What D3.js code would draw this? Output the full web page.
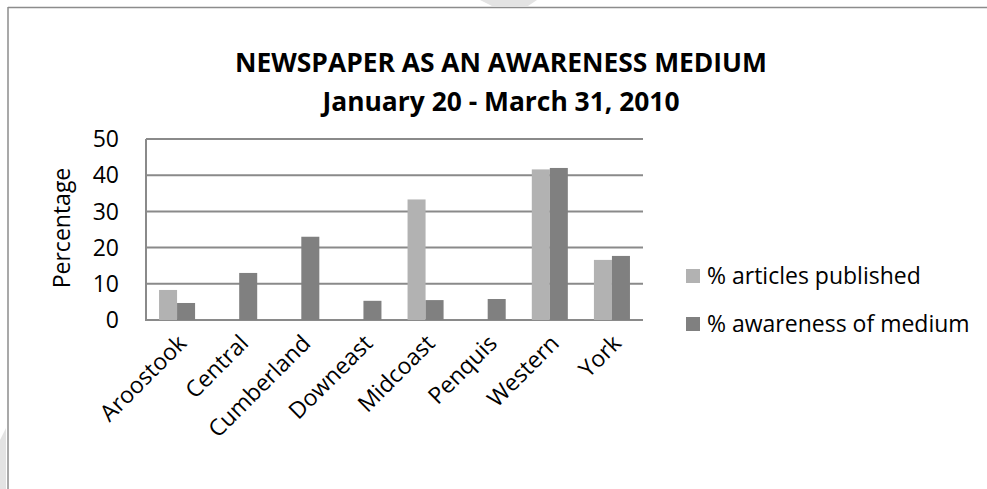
<!DOCTYPE html>
<html>
<head>
<meta charset="utf-8">
<script src="https://cdn.jsdelivr.net/npm/d3@7"></script>
<style>
  body { margin: 0; background: #fff; }
  svg { display: block; font-family: "Open Sans", sans-serif; }
</style>
</head>
<body>
<svg id="chart" width="987" height="489"></svg>
<script>
var regions = ["Aroostook", "Central", "Cumberland", "Downeast", "Midcoast", "Penquis", "Western", "York"];
var seriesNames = ["% articles published", "% awareness of medium"];
var articles = [8.3, 0, 0, 0, 33.3, 0, 41.6, 16.6];
var awareness = [4.7, 13.0, 23.0, 5.3, 5.5, 5.8, 42.0, 17.7];
var yTicks = [0, 10, 20, 30, 40, 50];
var colors = ["#b2b2b2", "#808080"];

var svg = d3.select("#chart");

// faint page marks behind the chart
svg.append("path")
  .attr("d", "M480,0 L537,0 L528,6 L492,6 Z")
  .attr("fill", "#e3e3e3");
svg.append("path")
  .attr("d", "M0,440 L6,428 L6,489 L0,489 Z")
  .attr("fill", "#e3e3e3");

// chart frame (only top and left edges show)
svg.append("line")
  .attr("x1", 8).attr("x2", 987).attr("y1", 7.5).attr("y2", 7.5)
  .attr("stroke", "#8c8c8c").attr("stroke-width", 1.5);
svg.append("line")
  .attr("x1", 8).attr("x2", 8).attr("y1", 7).attr("y2", 489)
  .attr("stroke", "#8c8c8c").attr("stroke-width", 1.5);

// title
svg.append("text")
  .attr("x", 501).attr("y", 72)
  .attr("text-anchor", "middle")
  .style("font-weight", "bold")
  .style("font-size", "26.4px")
  .text("NEWSPAPER AS AN AWARENESS MEDIUM");
svg.append("text")
  .attr("x", 501).attr("y", 111)
  .attr("text-anchor", "middle")
  .style("font-weight", "bold")
  .style("font-size", "26.4px")
  .text("January 20 - March 31, 2010");

var x = d3.scaleBand()
  .domain(regions)
  .range([146, 643])
  .paddingInner(0.42)
  .paddingOuter(0.21);

var xs = d3.scaleBand()
  .domain(seriesNames)
  .range([0, x.bandwidth()]);

var y = d3.scaleLinear()
  .domain([0, 50])
  .range([320, 139]);

// gridlines
svg.append("g").selectAll("line")
  .data(yTicks)
  .enter().append("line")
  .attr("x1", 146).attr("x2", 643)
  .attr("y1", function (d) { return y(d); })
  .attr("y2", function (d) { return y(d); })
  .attr("stroke", "#8a8a8a")
  .attr("stroke-width", 2);

// tick labels
svg.append("g").selectAll("text")
  .data(yTicks)
  .enter().append("text")
  .attr("x", 119)
  .attr("y", function (d) { return y(d); })
  .attr("dy", "0.36em")
  .attr("text-anchor", "end")
  .style("font-size", "23px")
  .text(function (d) { return d; });

svg.append("text")
  .attr("transform", "translate(70,228) rotate(-90)")
  .attr("text-anchor", "middle")
  .style("font-size", "23px")
  .text("Percentage");

// bars
var rows = regions.map(function (r, i) {
  return { region: r, values: [articles[i], awareness[i]] };
});

var groups = svg.append("g").selectAll("g")
  .data(rows)
  .enter().append("g")
  .attr("transform", function (d) { return "translate(" + x(d.region) + ",0)"; });

groups.selectAll("rect")
  .data(function (d) {
    return d.values.map(function (v, i) { return { name: seriesNames[i], value: v, i: i }; });
  })
  .enter().append("rect")
  .attr("x", function (d) { return xs(d.name); })
  .attr("y", function (d) { return y(d.value); })
  .attr("width", xs.bandwidth())
  .attr("height", function (d) { return y(0) - y(d.value); })
  .attr("fill", function (d) { return colors[d.i]; });

// left axis line
svg.append("line")
  .attr("x1", 146).attr("x2", 146).attr("y1", 139).attr("y2", 321)
  .attr("stroke", "#8a8a8a").attr("stroke-width", 2);

// category labels
svg.append("g").selectAll("text")
  .data(regions)
  .enter().append("text")
  .attr("transform", function (d) {
    return "translate(" + (x(d) + x.bandwidth() / 2 - 1) + ",333) rotate(-45)";
  })
  .attr("dy", "0.72em")
  .attr("text-anchor", "end")
  .style("font-size", "23px")
  .text(function (d) { return d; });

// legend
var legend = svg.append("g").selectAll("g")
  .data(seriesNames)
  .enter().append("g")
  .attr("transform", function (d, i) { return "translate(686," + (269 + i * 48) + ")"; });
legend.append("rect")
  .attr("width", 14).attr("height", 14)
  .attr("fill", function (d, i) { return colors[i]; });
legend.append("text")
  .attr("x", 21).attr("y", 14.5)
  .style("font-size", "23px")
  .text(function (d) { return d; });
</script>
</body>
</html>
